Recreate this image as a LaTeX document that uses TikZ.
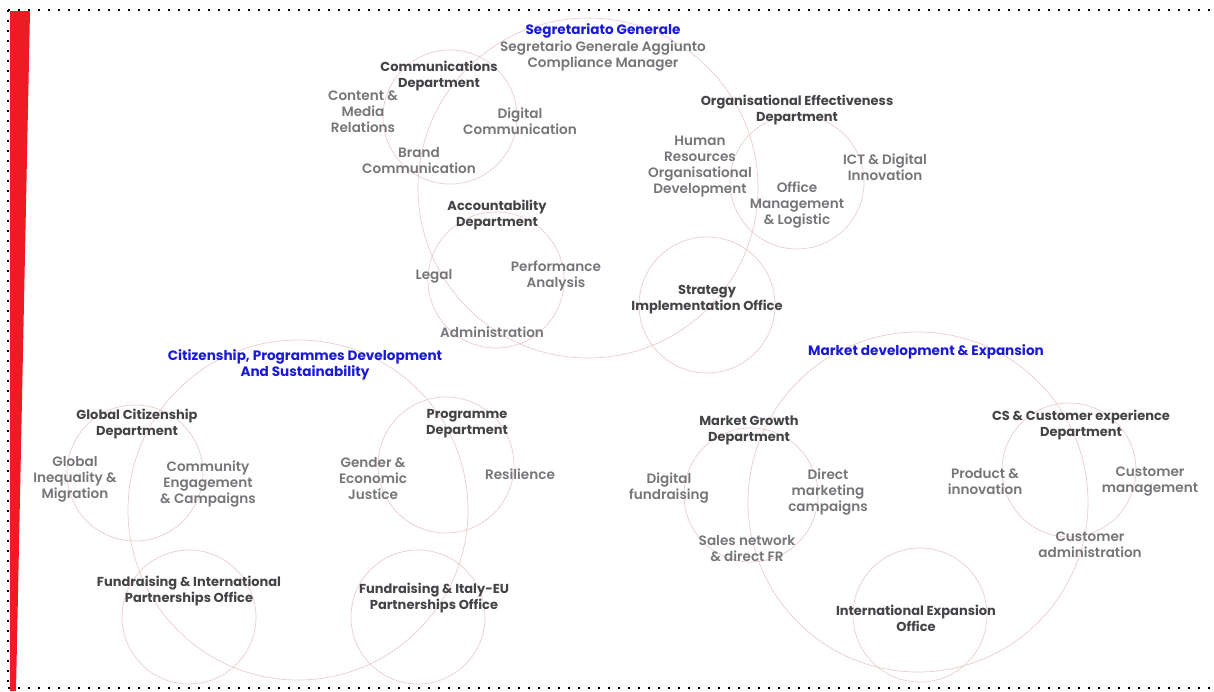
\documentclass[tikz,border=0pt]{standalone}
\usepackage{fontspec}
\setmainfont{Poppins}[UprightFont=* SemiBold,BoldFont=* Bold]
\definecolor{ringpink}{RGB}{234,204,204}
\definecolor{headgray}{RGB}{68,68,72}
\definecolor{unitgray}{RGB}{118,118,122}
\definecolor{areablue}{RGB}{26,26,214}
\definecolor{barred}{RGB}{237,28,36}

\begin{document}
\begin{tikzpicture}[x=1pt,y=-1pt,
  ring/.style={circle,draw=ringpink,line width=0.7pt,inner sep=0pt,minimum size=#1},
  area/.style={font=\bfseries\fontsize{13.6}{16}\selectfont,text=areablue,align=center,inner sep=0pt},
  head/.style={font=\bfseries\fontsize{13}{16}\selectfont,text=headgray,align=center,inner sep=0pt},
  unit/.style={font=\fontsize{13.6}{16}\selectfont,text=unitgray,align=center,inner sep=0pt},
  dots/.style={line width=2pt,dash pattern=on 2pt off 8pt}]
  \useasboundingbox (0,0) rectangle (1214,691);
  \fill[barred] (10,11) -- (30,11) -- (16,691) -- (10,691) -- cycle;
  \draw[dots] (8,10) -- (1214,10);
  \draw[dots] (8,10) -- (8,688);
  \draw[dots] (8,688) -- (1214,688);

  % rings
  \node[ring=340pt] (segr) at (588,188) {};
  \node[ring=134pt] (comm) at (450,117) {};
  \node[ring=134pt] (orgeff) at (797,182) {};
  \node[ring=136pt] (acc) at (496,280) {};
  \node[ring=136pt] (strat) at (707,305) {};
  \node[ring=340pt] (citz) at (298,510) {};
  \node[ring=136pt] (glob) at (135,473) {};
  \node[ring=136pt] (prog) at (446,465) {};
  \node[ring=134pt] (fint) at (189,617) {};
  \node[ring=134pt] (fita) at (418,617) {};
  \node[ring=340pt] (mkt) at (918,502) {};
  \node[ring=134pt] (mgro) at (751,495) {};
  \node[ring=134pt] (cs) at (1069,470) {};
  \node[ring=134pt] (intl) at (920,615) {};

  % Segretariato
  \node[area] (t-segr) at (603,31) {Segretariato Generale};
  \node[unit] (u-segr) at (603,56) {Segretario Generale Aggiunto\\Compliance Manager};
  \node[head] (t-comm) at (439,76) {Communications\\Department};
  \node[unit] (u-cont) at (363,112) {Content \&\\Media\\Relations};
  \node[unit] (u-digc) at (520,121) {Digital\\Communication};
  \node[unit] (u-brand) at (419,161) {Brand\\Communication};
  \node[head] (t-acc) at (497,215) {Accountability\\Department};
  \node[unit] (u-legal) at (434,276) {Legal};
  \node[unit] (u-perf) at (556,276) {Performance\\Analysis};
  \node[unit] (u-admin) at (492,332) {Administration};
  \node[head] (t-strat) at (707,300) {Strategy\\Implementation Office};
  \node[head] (t-orgeff) at (797,110) {Organisational Effectiveness\\Department};
  \node[unit] (u-hr) at (700,167) {Human\\Resources\\Organisational\\Development};
  \node[unit] (u-ict) at (885,167) {ICT \& Digital\\Innovation};
  \node[unit] (u-office) at (797,205) {Office\\Management\\\& Logistic};

  % Citizenship
  \node[area] (t-citz) at (305,365) {Citizenship, Programmes Development\\And Sustainability};
  \node[head] (t-glob) at (137,424) {Global Citizenship\\Department};
  \node[unit] (u-ineq) at (75,479) {Global\\Inequality \&\\Migration};
  \node[unit] (u-engage) at (208,484) {Community\\Engagement\\\& Campaigns};
  \node[head] (t-prog) at (467,424) {Programme\\Department};
  \node[unit] (u-gender) at (373,479) {Gender \&\\Economic\\Justice};
  \node[unit] (u-resil) at (520,474) {Resilience};
  \node[head] (t-fint) at (189,591) {Fundraising \& International\\Partnerships Office};
  \node[head] (t-fita) at (434,598) {Fundraising \& Italy-EU\\Partnerships Office};

  % Market
  \node[area] (t-mkt) at (926,352) {Market development \& Expansion};
  \node[head] (t-mgro) at (749,430) {Market Growth\\Department};
  \node[unit] (u-digf) at (669,488) {Digital\\fundraising};
  \node[unit] (u-direct) at (828,492) {Direct\\marketing\\campaigns};
  \node[unit] (u-sales) at (747,549) {Sales network\\\& direct FR};
  \node[head] (t-cs) at (1081,425) {CS \& Customer experience\\Department};
  \node[unit] (u-prod) at (985,482) {Product \&\\innovation};
  \node[unit] (u-custm) at (1150,482) {Customer\\management};
  \node[unit] (u-custa) at (1090,545) {Customer\\administration};
  \node[head] (t-intl) at (916,618) {International Expansion\\Office};
\end{tikzpicture}
\end{document}
